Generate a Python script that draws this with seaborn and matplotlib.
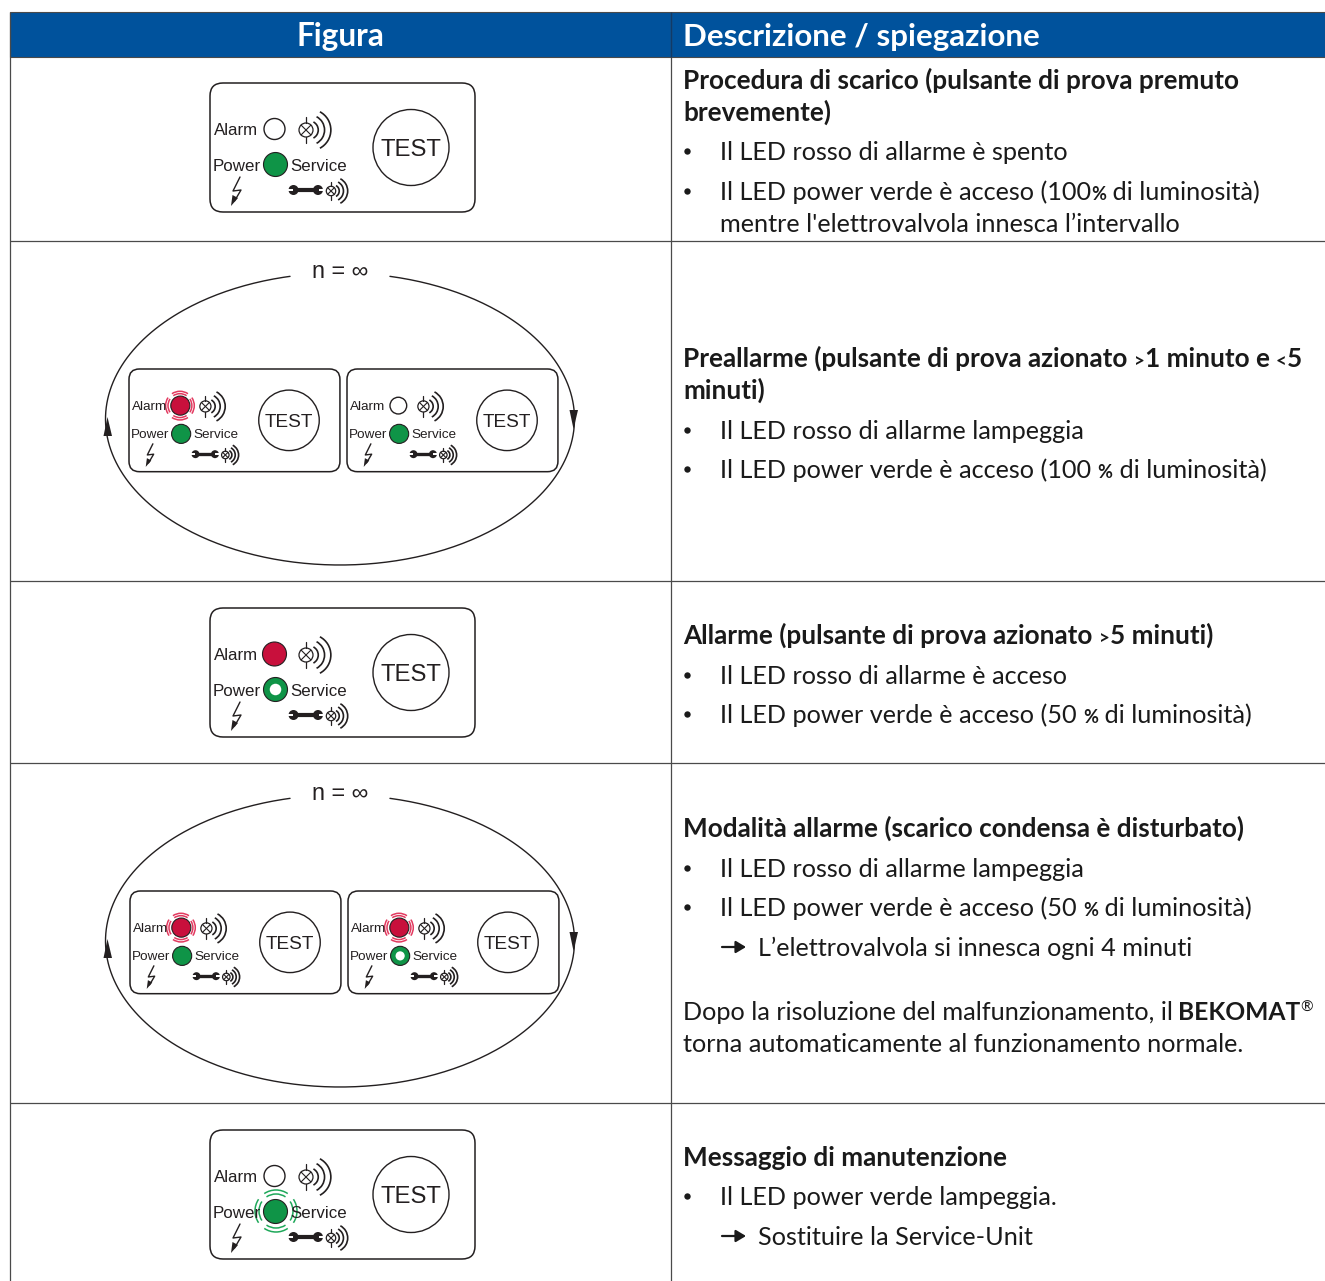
import re
import numpy as np
import matplotlib
matplotlib.use('Agg')
import matplotlib.pyplot as plt
from matplotlib.patches import Arc, Circle, FancyBboxPatch, Rectangle
import seaborn as sns

# testi della tabella
header_labels = ['Figura', 'Descrizione / spiegazione']
row1_title = ['Procedura di scarico (pulsante di prova premuto', 'brevemente)']
row1_body = ['Il LED rosso di allarme è spento',
             'Il LED power verde è acceso (100% di luminosità)',
             "mentre l'elettrovalvola innesca l’intervallo"]
row2_title = ['Preallarme (pulsante di prova azionato >1 minuto e <5', 'minuti)']
row2_body = ['Il LED rosso di allarme lampeggia',
             'Il LED power verde è acceso (100 % di luminosità)']
row3_title = ['Allarme (pulsante di prova azionato >5 minuti)']
row3_body = ['Il LED rosso di allarme è acceso',
             'Il LED power verde è acceso (50 % di luminosità)']
row4_title = ['Modalità allarme (scarico condensa è disturbato)']
row4_body = ['Il LED rosso di allarme lampeggia',
             'Il LED power verde è acceso (50 % di luminosità)']
row4_arrow = 'L’elettrovalvola si innesca ogni 4 minuti'
row4_note = ['Dopo la risoluzione del malfunzionamento, il ', 'BEKOMAT', '®',
             'torna automaticamente al funzionamento normale.']
row5_title = ['Messaggio di manutenzione']
row5_body = ['Il LED power verde lampeggia.']
row5_arrow = 'Sostituire la Service-Unit'
loop_label = 'n = ∞'
panel_labels = ['Alarm', 'Power', 'Service', 'TEST']

BLUE = '#00529c'
RED = '#c8103c'
GREEN = '#0f9447'
INK = '#231f20'
LINE = '#4a4a4a'
BODY = 'Lato'
LABEL = 'Liberation Sans'

sns.set_theme(style='white')
plt.rcParams['font.family'] = ['Lato', 'DejaVu Sans']

fig = plt.figure(figsize=(13.25, 12.81), dpi=100)
ax = fig.add_axes([0, 0, 1, 1])
ax.set_xlim(0, 1325)
ax.set_ylim(1281, 0)
ax.axis('off')
renderer = fig.canvas.get_renderer()


def lamp(x, y, s, r):
    ax.add_patch(Circle((x, y), r * s, fc='white', ec=INK, lw=0.9))
    d = r * s * 0.7
    ax.plot([x - d, x + d], [y - d, y + d], color=INK, lw=0.8)
    ax.plot([x - d, x + d], [y + d, y - d], color=INK, lw=0.8)
    ax.plot([x, x], [y - r * s * 1.9, y - r * s], color=INK, lw=0.9)
    ax.plot([x, x], [y + r * s, y + r * s * 1.9], color=INK, lw=0.9)
    # archi sonori
    for apex, half in [(1.75, 1.15), (2.65, 1.9), (3.55, 2.6)]:
        R = half * r * s / np.sin(np.radians(62))
        cx = x + apex * r * s - R
        ax.add_patch(Arc((cx, y), 2 * R, 2 * R, theta1=-62, theta2=62, color=INK, lw=1.2))


def wrench(x, y, s):
    ax.plot([x + 5 * s, x + 28 * s], [y, y], color=INK, lw=3.0 * s, solid_capstyle='butt')
    for px, side in [(x + 4.5 * s, -1), (x + 29 * s, 1)]:
        ax.add_patch(Circle((px, y), 5 * s, fc=INK, ec='none'))
        left = px - 6 * s if side < 0 else px + 0.5 * s
        ax.add_patch(Rectangle((left, y - 1.3 * s), 5.5 * s, 2.6 * s, fc='white', ec='none'))


def bolt(x, y, s):
    pts = [(9, 0), (2, 14), (10, 13), (3.5, 24)]
    ax.plot([x + p[0] * s for p in pts], [y + p[1] * s for p in pts], color=INK, lw=1.0)
    ax.fill([x + 0.0 * s, x + 1.5 * s, x + 7 * s], [y + 29 * s, y + 18 * s, y + 21 * s], color=INK, lw=0)


def halo(x, y, s, color, radii):
    # due anelli spezzati attorno al LED
    for r in radii:
        for mid in [0, 90, 180, 270]:
            ax.add_patch(Arc((x, y), 2 * r * s, 2 * r * s, theta1=mid - 34, theta2=mid + 34, color=color, lw=1.1))


def led(x, y, s, r, state, color):
    if state == 'off':
        ax.add_patch(Circle((x, y), r * s, fc='white', ec=INK, lw=1.0))
    elif state == 'half':
        ax.add_patch(Circle((x, y), r * s, fc=color, ec=INK, lw=0.8))
        ax.add_patch(Circle((x, y), r * s * 0.48, fc='white', ec='none'))
    else:
        ax.add_patch(Circle((x, y), r * s, fc=color, ec=INK, lw=0.8))


def panel(x0, y0, s, alarm, power):
    ax.add_patch(FancyBboxPatch((x0, y0), 265 * s, 129 * s, boxstyle=f'round,pad=0,rounding_size={13 * s}',
                                fc='white', ec=INK, lw=1.1))
    fs = 12.2 * s
    ax.text(x0 + 3.5 * s, y0 + 47.5 * s, panel_labels[0], ha='left', va='center', fontsize=fs,
            family=LABEL, color=INK, zorder=3)
    ax.text(x0 + 2.5 * s, y0 + 83.5 * s, panel_labels[1], ha='left', va='center', fontsize=fs,
            family=LABEL, color=INK, zorder=3)
    ax.text(x0 + 80.5 * s, y0 + 83.5 * s, panel_labels[2], ha='left', va='center', fontsize=fs,
            family=LABEL, color=INK, zorder=3)
    ax.add_patch(Circle((x0 + 201 * s, y0 + 64.5 * s), 38 * s, fc='white', ec=INK, lw=1.0))
    ax.text(x0 + 201 * s, y0 + 67 * s, panel_labels[3], ha='center', va='center', fontsize=17.2 * s,
            family=LABEL, color=INK)
    alarm_r = 10.5 if alarm == 'off' else 12
    if alarm == 'blink':
        halo(x0 + 64 * s, y0 + 46 * s, s, '#e2395f', [15, 18])
    led(x0 + 64.5 * s, y0 + 46 * s, s, alarm_r, 'on' if alarm == 'blink' else alarm, RED)
    if power == 'blink':
        halo(x0 + 66 * s, y0 + 81 * s, s, '#1fa85a', [17, 21])
    led(x0 + 65.5 * s, y0 + 81.5 * s, s, 12, 'on' if power == 'blink' else power, GREEN)
    lamp(x0 + 96 * s, y0 + 47 * s, s, 7)
    lamp(x0 + 121 * s, y0 + 108 * s, s, 4.7)
    wrench(x0 + 79 * s, y0 + 107 * s, s)
    bolt(x0 + 21 * s, y0 + 94 * s, s)


def loop(cy):
    t = np.radians(np.linspace(282.3, 617.7, 400))
    ax.plot(340 + 234.5 * np.cos(t), cy + 146 * np.sin(t), color=INK, lw=1.0)
    ax.text(340, cy - 148, loop_label, ha='center', va='center', fontsize=16.8, family=[LABEL, 'DejaVu Sans'], color=INK)
    ax.fill([107.5, 103.5, 112], [cy - 2, cy + 17, cy + 17], color=INK, lw=0)
    ax.fill([573.5, 569.5, 578], [cy + 10, cy - 9, cy - 9], color=INK, lw=0)


def para(lines, ys, x=683, bold=False, size=None):
    weight = 'bold' if bold else 'normal'
    if size is None:
        size = 18.8 if bold else 18.15
    for line, y in zip(lines, ys):
        # i simboli % > < sono più piccoli nel testo originale
        cur = x
        for piece in re.split(r'([%<>])', line):
            if not piece:
                continue
            small = piece in '%<>'
            t = ax.text(cur, y, piece, ha='left', va='baseline', fontsize=size * 0.72 if small else size,
                        color='#1a1a1a', weight='bold' if small else weight, family=BODY)
            cur = t.get_window_extent(renderer).x1


def bullets(ys):
    for y in ys:
        ax.plot([687], [y - 8], marker='o', ms=4.6, color='#1a1a1a', mew=0)


def arrow(y):
    ax.annotate('', xy=(746, y - 8), xytext=(722, y - 8),
                arrowprops=dict(arrowstyle='-|>,head_length=0.5,head_width=0.3', color='#1a1a1a', lw=1.6,
                                shrinkA=0, shrinkB=0))


# griglia e intestazione
ax.add_patch(Rectangle((10, 11.5), 1315, 45, fc=BLUE, ec=LINE, lw=0.8))
ax.vlines(671, 12, 1281, color=LINE, lw=0.9)
ax.vlines(10, 12, 1281, color=LINE, lw=0.9)
ax.hlines([241, 581, 763, 1103], 10, 1325, color=LINE, lw=0.9)
ax.vlines(671, 12, 57, color='#123a66', lw=0.9)
ax.text(340, 46, header_labels[0], ha='center', va='baseline', fontsize=22.7, color='white', weight='bold', family=BODY)
ax.text(683, 46, header_labels[1], ha='left', va='baseline', fontsize=22.5, color='white', weight='bold', family=BODY)

# figure
panel(210, 83, 1, 'off', 'on')
loop(419)
panel(129, 369, 0.796, 'blink', 'on')
panel(347, 369, 0.796, 'off', 'on')
panel(210, 608, 1, 'on', 'half')
loop(941)
panel(130, 891, 0.796, 'blink', 'on')
panel(348, 891, 0.796, 'blink', 'half')
panel(210, 1130, 1, 'off', 'blink')

# colonna di destra
para(row1_title, [89, 121], bold=True)
para(row1_body, [160, 200, 232], x=720)
bullets([159, 199])
para(row2_title, [367, 399], bold=True)
para(row2_body, [439, 478], x=720)
bullets([438, 477])
para(row3_title, [644], bold=True)
para(row3_body, [684, 723], x=720)
bullets([683, 722])
para(row4_title, [837], bold=True)
para(row4_body, [877, 916], x=720)
bullets([876, 915])
arrow(955)
para([row4_arrow], [956], x=758)
para([row4_note[0]], [1020])
para([row4_note[1]], [1020], x=1178, bold=True, size=17.7)
para([row4_note[2]], [1012], x=1300, size=11)
para([row4_note[3]], [1052])
para(row5_title, [1166], bold=True)
para(row5_body, [1205], x=720)
bullets([1204])
arrow(1244)
para([row5_arrow], [1245], x=758)

fig.savefig('out.png', dpi=100, facecolor='white')
